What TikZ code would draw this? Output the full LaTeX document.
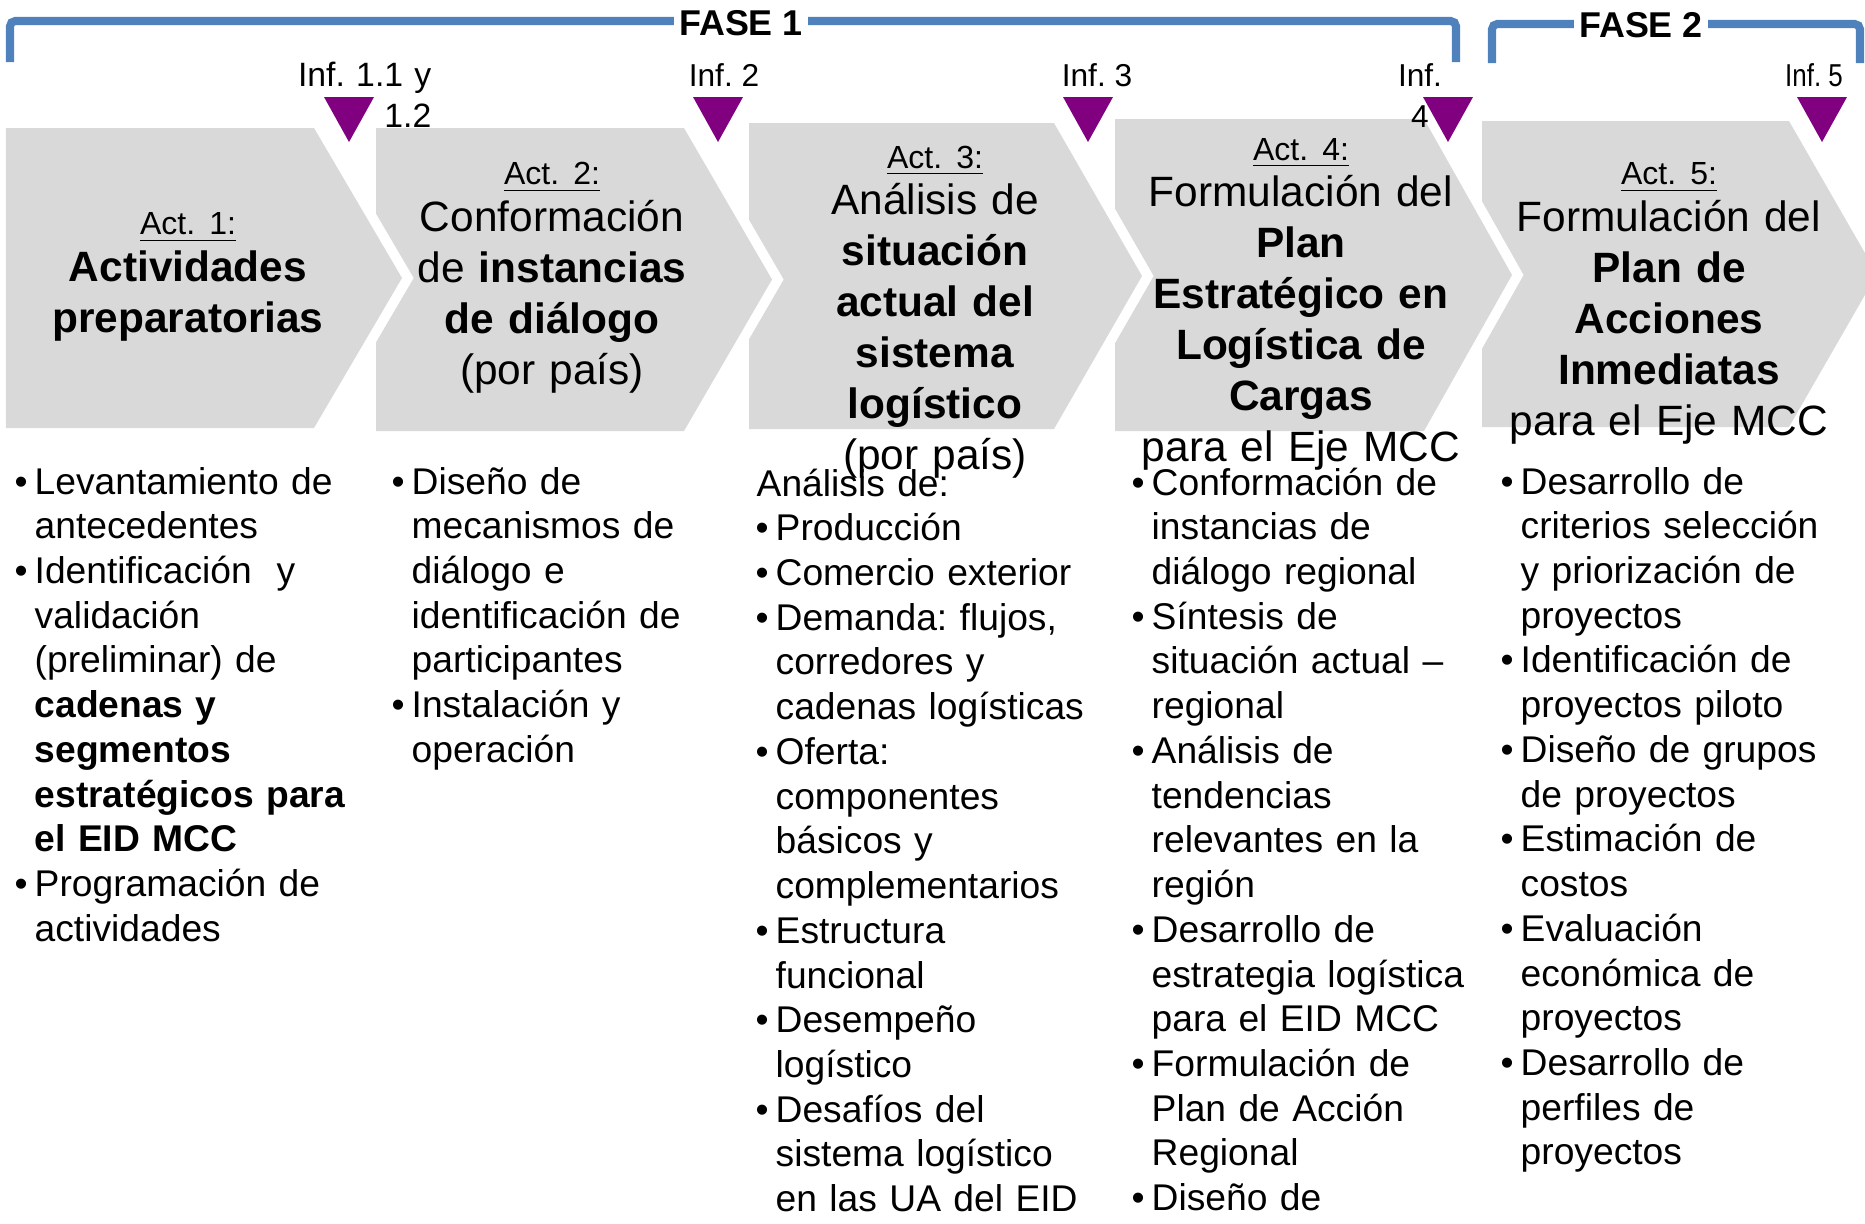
\documentclass[tikz,border=0pt]{standalone}
\usepackage{fontspec}
\setmainfont{Liberation Sans}
\usepackage{graphicx}
\frenchspacing
\definecolor{actgray}{HTML}{D9D9D9}
\definecolor{infpurple}{HTML}{800080}
\definecolor{faseblue}{HTML}{4F81BD}
\newcommand{\actno}[1]{{\fontsize{9.1}{11}\selectfont\underline{Act. #1:}}\\[-1.2pt]}
\newcommand{\bul}{\leavevmode\llap{\textbullet\hspace{2pt}}}

\begin{document}
\begin{tikzpicture}[x=0.01cm, y=-0.01cm,
  fase/.style={draw=faseblue, line width=2.3pt, rounded corners=1.5pt},
  fasetext/.style={fill=white, inner xsep=1.5pt, inner ysep=0pt, font=\bfseries\fontsize{10.2}{12}\selectfont},
  actshape/.style={fill=actgray, preaction={draw=white, line width=5.7pt}},
  acttext/.style={text width=3.5cm, align=center, anchor=base, inner sep=0pt, font=\fontsize{12.06}{14.51}\selectfont},
  inftext/.style={inner sep=0pt, anchor=base, font=\fontsize{9}{11.4}\selectfont},
  listtext/.style={text width=3.6cm, align=left, anchor=base west, inner sep=0pt, font=\fontsize{10.58}{12.72}\selectfont}]
  \useasboundingbox (0,0) rectangle (1865,1224);
  \clip (0,0) rectangle (1865,1224);

  \draw[fase] (10,62) -- (10,21) -- (1456,21) -- (1456,62);
  \draw[fase] (1492,63) -- (1492,24) -- (1860,24) -- (1860,63);
  \node[fasetext] (fase1) at (741,23) {FASE 1};
  \node[fasetext] (fase2) at (1641,25) {FASE 2};

  \foreach \l/\t/\r/\b in {1482/121/1789/427, 1115/119/1424/431, 749/123/1054/429, 376/128/684/431, 6/128/314/428}
    \path[actshape] (\l,\t) -- (\r,\t) -- ({\r+88},{(\t+\b)/2}) -- (\r,\b) -- (\l,\b) -- cycle;

  \foreach \x in {349,718,1088,1448,1822}
    \fill[infpurple] ({\x-25},97) -- ({\x+25},97) -- (\x,142) -- cycle;

  \node[inftext, text width=1.45cm, align=right, anchor=base east, font=\fontsize{9.6}{11.4}\selectfont] (inf1) at (432,87) {Inf. 1.1 y\\1.2};
  \node[inftext] (inf2) at (724,87) {Inf. 2};
  \node[inftext] (inf3) at (1097,87) {Inf. 3};
  \node[inftext, text width=0.6cm, align=center] (inf4) at (1420,87) {Inf.\\4};
  \node[inftext] (inf5) at (1814,87) {\scalebox{0.82}[1]{Inf. 5}};

  \node[acttext] (act1) at (188,235) {\actno{1}\textbf{Actividades}\\\textbf{preparatorias}};
  \node[acttext] (act2) at (552,185) {\actno{2}Conformación\\de \textbf{instancias}\\\textbf{de diálogo}\\(por país)};
  \node[acttext] (act3) at (935,168) {\actno{3}Análisis de\\\textbf{situación}\\\textbf{actual del}\\\textbf{sistema}\\\textbf{logístico}\\(por país)};
  \node[acttext] (act4) at (1301,160) {\actno{4}Formulación del\\\textbf{Plan}\\\textbf{Estratégico en}\\\textbf{Logística de}\\\textbf{Cargas}\\para el Eje MCC};
  \node[acttext] (act5) at (1669,185) {\actno{5}Formulación del\\\textbf{Plan de}\\\textbf{Acciones}\\\textbf{Inmediatas}\\para el Eje MCC};

  \node[listtext] (list1) at (34,494) {\bul Levantamiento de\\antecedentes\\\bul Identificación\ \ y\\validación\\(preliminar) de\\\textbf{cadenas y}\\\textbf{segmentos}\\\textbf{estratégicos para}\\\textbf{el EID MCC}\\\bul Programación de\\actividades};
  \node[listtext] (list2) at (411,494) {\bul Diseño de\\mecanismos de\\diálogo e\\identificación de\\participantes\\\bul Instalación y\\operación};
  \node[listtext] (list3) at (775,496) {\hspace*{-0.19cm}Análisis de:\\\bul Producción\\\bul Comercio exterior\\\bul Demanda: flujos,\\corredores y\\cadenas logísticas\\\bul Oferta:\\componentes\\básicos y\\complementarios\\\bul Estructura\\funcional\\\bul Desempeño\\logístico\\\bul Desafíos del\\sistema logístico\\en las UA del EID};
  \node[listtext] (list4) at (1151,495) {\bul Conformación de\\instancias de\\diálogo regional\\\bul Síntesis de\\situación actual --\\regional\\\bul Análisis de\\tendencias\\relevantes en la\\región\\\bul Desarrollo de\\estrategia logística\\para el EID MCC\\\bul Formulación de\\Plan de Acción\\Regional\\\bul Diseño de};
  \node[listtext] (list5) at (1520,494) {\bul Desarrollo de\\criterios selección\\y priorización de\\proyectos\\\bul Identificación de\\proyectos piloto\\\bul Diseño de grupos\\de proyectos\\\bul Estimación de\\costos\\\bul Evaluación\\económica de\\proyectos\\\bul Desarrollo de\\perfiles de\\proyectos};
\end{tikzpicture}
\end{document}
